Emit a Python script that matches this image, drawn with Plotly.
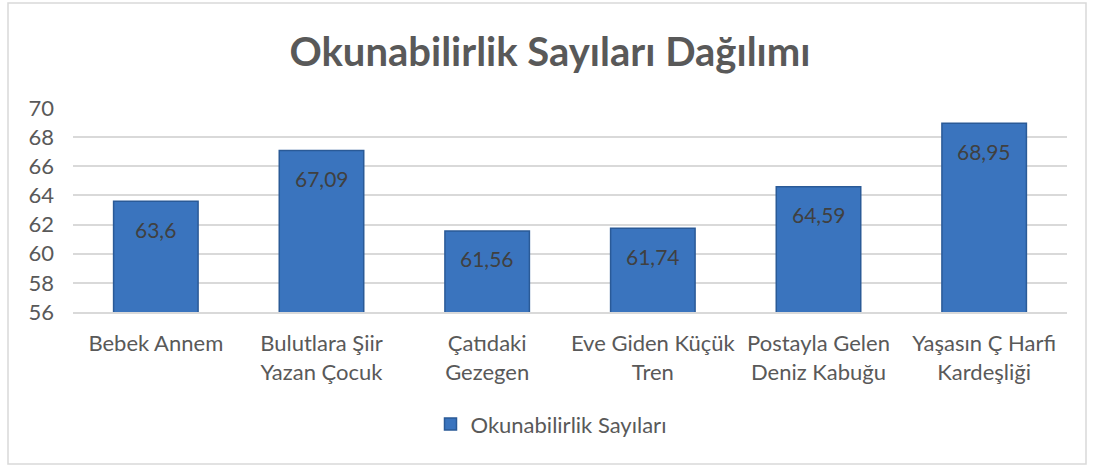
import plotly.graph_objects as go

categories = ["Bebek Annem", "Bulutlara Şiir<br>Yazan Çocuk", "Çatıdaki<br>Gezegen",
              "Eve Giden Küçük<br>Tren", "Postayla Gelen<br>Deniz Kabuğu", "Yaşasın Ç Harfi<br>Kardeşliği"]
values = [63.6, 67.09, 61.56, 61.74, 64.59, 68.95]
series_name = "Okunabilirlik Sayıları"
title = "Okunabilirlik Sayıları Dağılımı"
labels = [str(v).replace(".", ",") for v in values]

FONT = "Lato"
fig = go.Figure()
fig.add_trace(go.Bar(
    x=categories, y=values, name=series_name,
    marker=dict(color="#3A74BE", line=dict(color="#2A5A97", width=1.5)),
    showlegend=True, hoverinfo="x+y",
))
for c, v, t in zip(categories, values, labels):
    fig.add_annotation(x=c, y=v, text=t, showarrow=False, yshift=-28, yanchor="middle",
                       font=dict(family=FONT, size=21, color="#404040"))
fig.update_layout(
    width=1094, height=465,
    margin=dict(l=73, r=27, t=108, b=153),
    paper_bgcolor="white", plot_bgcolor="white",
    bargap=0.49,
    title=dict(text="<b>" + title + "</b>", x=(550 - 73) / 994, xref="paper", y=0.888, yref="container",
               xanchor="center", yanchor="middle",
               font=dict(family=FONT, size=40, color="#595959")),
    font=dict(family=FONT, size=22, color="#595959"),
    yaxis=dict(range=[56, 70], dtick=2, showgrid=True, gridcolor="#D9D9D9", gridwidth=1.5,
               zeroline=False, tickfont=dict(size=22, color="#595959"), ticklen=0,
               ticks="", automargin=False, fixedrange=True, ticklabelstandoff=18),
    xaxis=dict(showline=True, linecolor="#D9D9D9", linewidth=2, tickfont=dict(size=22, color="#595959"),
               ticks="", automargin=False, ticklabelstandoff=11),
    legend=dict(orientation="h", x=(551 - 73) / 994, xanchor="center", y=-0.55, yanchor="middle",
                font=dict(size=22, color="#595959"), itemwidth=30),
    shapes=[dict(type="rect", xref="paper", yref="paper",
                 x0=(8 - 73) / 994, x1=(1086 - 73) / 994,
                 y0=(312 - 464) / 204, y1=(312 - 3) / 204,
                 line=dict(color="#D9D9D9", width=1.5), fillcolor="rgba(0,0,0,0)", layer="below")],
)
fig.write_html("out.html", config={"displayModeBar": False},
               post_script="document.body.style.margin='0px';")
